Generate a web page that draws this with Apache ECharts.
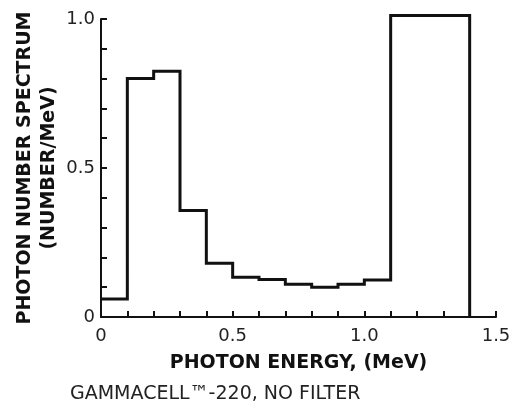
<!DOCTYPE html>
<html><head><meta charset="utf-8">
<script src="https://cdn.jsdelivr.net/npm/echarts@6/dist/echarts.min.js"></script>
<style>html,body{margin:0;padding:0;background:#fff}#c{width:515px;height:415px}</style>
</head><body><div id="c"></div>
<script>
var binEdges = [0, 0.1, 0.2, 0.3, 0.4, 0.5, 0.6, 0.7, 0.8, 0.9, 1.0, 1.1, 1.4];
var spectrum = [0.06, 0.80, 0.825, 0.357, 0.18, 0.133, 0.126, 0.11, 0.10, 0.11, 0.124, 1.012];
var xTickLabels = ['0', '0.5', '1.0', '1.5'];
var yTickLabels = ['0', '0.5', '1.0'];

var pts = [];
for (var i = 0; i < spectrum.length; i++) pts.push([binEdges[i], spectrum[i]]);
pts.push([binEdges[binEdges.length - 1], spectrum[spectrum.length - 1]]);
pts.push([binEdges[binEdges.length - 1], 0]);

function lab(list) {
  return function (v) {
    var s = v === 0 ? '0' : v.toFixed(1);
    return list.indexOf(s) >= 0 && Math.abs(v * 2 - Math.round(v * 2)) < 1e-6 ? s : '';
  };
}
var font = 'Verdana, "DejaVu Sans", sans-serif';
var chart = echarts.init(document.getElementById('c'));
chart.setOption({
  animation: false,
  grid: { left: 101, right: 19, top: 19, bottom: 98, containLabel: false, outerBoundsMode: 'none' },
  xAxis: {
    type: 'value', min: 0, max: 1.5, interval: 0.1,
    name: 'PHOTON ENERGY, (MeV)', nameLocation: 'middle', nameGap: 37,
    nameTextStyle: { fontFamily: font, fontWeight: 'bold', fontSize: 19, color: '#111' },
    axisLine: { lineStyle: { color: '#111', width: 2 } },
    axisTick: { inside: true, length: 6, lineStyle: { color: '#111', width: 2 } },
    axisLabel: { formatter: lab(xTickLabels), fontFamily: font, fontSize: 18, color: '#222', margin: 10, showMinLabel: true, showMaxLabel: true },
    splitLine: { show: false }
  },
  yAxis: {
    type: 'value', min: 0, max: 1.0, interval: 0.1,
    name: 'PHOTON NUMBER SPECTRUM\n(NUMBER/MeV)', nameLocation: 'middle', nameGap: 40, nameRotate: 90,
    nameMoveOverlap: false,
    nameTextStyle: { fontFamily: font, fontWeight: 'bold', fontSize: 19, color: '#111', lineHeight: 24, align: 'center' },
    axisLine: { show: true, lineStyle: { color: '#111', width: 2 } },
    axisTick: { show: true, inside: true, length: 6, lineStyle: { color: '#111', width: 2 } },
    axisLabel: { formatter: lab(yTickLabels), fontFamily: font, fontSize: 18, color: '#222', margin: 6 },
    splitLine: { show: false }
  },
  graphic: [{
    type: 'text', left: 70, top: 385,
    style: { text: 'GAMMACELL\u2122-220, NO FILTER', font: '19px ' + font, fill: '#222' }
  }],
  series: [{
    type: 'line', step: 'end', data: pts, showSymbol: false, clip: false,
    lineStyle: { color: '#111', width: 3, join: 'miter' }
  }]
});
</script></body></html>
